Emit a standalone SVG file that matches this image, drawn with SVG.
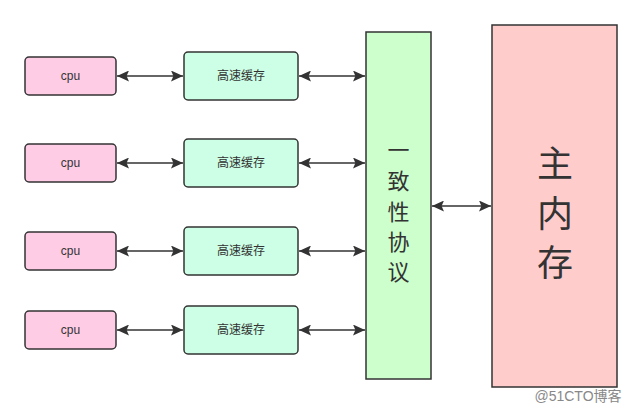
<svg xmlns="http://www.w3.org/2000/svg" width="642" height="412" viewBox="0 0 642 412">
<style>
.cpu{fill:#FFCCE6;stroke:#333;stroke-width:1.5}
.cache{fill:#CCFFE6;stroke:#333;stroke-width:1.5}
.lbl{font-family:"Liberation Sans","Noto Sans CJK SC",sans-serif;font-size:12px;fill:#333;text-anchor:middle;dominant-baseline:central}
.big{font-family:"Noto Sans CJK SC",sans-serif;fill:#333;text-anchor:middle;dominant-baseline:central}
.ln{stroke:#333;stroke-width:1.5;fill:none;marker-start:url(#a);marker-end:url(#a)}
</style>
<defs>
<marker id="a" viewBox="0 0 10 10" refX="10" refY="5" markerWidth="12" markerHeight="11" markerUnits="userSpaceOnUse" orient="auto-start-reverse" preserveAspectRatio="none">
<path d="M0,0 L10,5 L0,10 L2,5 z" fill="#333"/>
</marker>
</defs>
<rect width="642" height="412" fill="#fff"/>
<g id="connectors">
<line class="ln" x1="117" y1="76" x2="183" y2="76"/>
<line class="ln" x1="299" y1="76" x2="365" y2="76"/>
<line class="ln" x1="117" y1="163" x2="183" y2="163"/>
<line class="ln" x1="299" y1="163" x2="365" y2="163"/>
<line class="ln" x1="117" y1="251" x2="183" y2="251"/>
<line class="ln" x1="299" y1="251" x2="365" y2="251"/>
<line class="ln" x1="117" y1="330" x2="183" y2="330"/>
<line class="ln" x1="299" y1="330" x2="365" y2="330"/>
<line class="ln" x1="432" y1="206" x2="491" y2="206"/>
</g>
<g id="cpu1"><rect class="cpu" x="25" y="57" width="91" height="38" rx="4"/><text class="lbl" x="70.5" y="76">cpu</text></g>
<g id="cpu2"><rect class="cpu" x="25" y="144" width="91" height="38" rx="4"/><text class="lbl" x="70.5" y="163">cpu</text></g>
<g id="cpu3"><rect class="cpu" x="25" y="232" width="91" height="38" rx="4"/><text class="lbl" x="70.5" y="251">cpu</text></g>
<g id="cpu4"><rect class="cpu" x="25" y="311" width="91" height="38" rx="4"/><text class="lbl" x="70.5" y="330">cpu</text></g>
<g id="cache1"><rect class="cache" x="184" y="52" width="114" height="48" rx="4"/><text class="lbl" x="241" y="76">高速缓存</text></g>
<g id="cache2"><rect class="cache" x="184" y="139" width="114" height="48" rx="4"/><text class="lbl" x="241" y="163">高速缓存</text></g>
<g id="cache3"><rect class="cache" x="184" y="227" width="114" height="48" rx="4"/><text class="lbl" x="241" y="251">高速缓存</text></g>
<g id="cache4"><rect class="cache" x="184" y="306" width="114" height="48" rx="4"/><text class="lbl" x="241" y="330">高速缓存</text></g>
<g id="coherence">
<rect x="366" y="32" width="65" height="347" fill="#CCFFCC" stroke="#333" stroke-width="1.5"/>
<text class="big" x="398.5" font-size="22"><tspan x="398.5" y="148">一</tspan><tspan x="398.5" y="179">致</tspan><tspan x="398.5" y="210">性</tspan><tspan x="398.5" y="240">协</tspan><tspan x="398.5" y="270">议</tspan></text>
</g>
<g id="memory">
<rect x="492" y="25" width="125" height="362" fill="#FFCCCC" stroke="#333" stroke-width="1.5"/>
<text class="big" x="555" font-size="36"><tspan x="555" y="161">主</tspan><tspan x="555" y="211">内</tspan><tspan x="555" y="260">存</tspan></text>
</g>
<text x="578" y="401" font-family="'Liberation Sans','Noto Sans CJK SC',sans-serif" font-size="14" fill="#888" text-anchor="middle">@51CTO博客</text>
</svg>
